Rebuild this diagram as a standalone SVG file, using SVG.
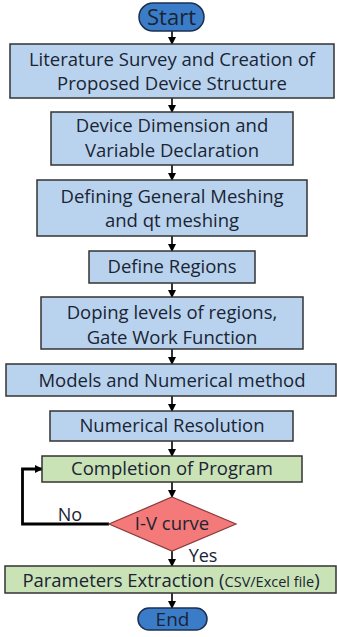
<svg xmlns="http://www.w3.org/2000/svg" width="337" height="637" viewBox="0 0 337 637">
<defs>
<marker id="ah" markerWidth="8" markerHeight="8" refX="7" refY="4" orient="auto" markerUnits="userSpaceOnUse">
<path d="M0,0 L8,4 L0,8 Z" fill="#000"/>
</marker>
<style>
.b{fill:#b9d3ee;stroke:#333;stroke-width:1.5}
.g{fill:#c9e2b6;stroke:#333;stroke-width:1.5}
.t{font-family:"Open Sans","DejaVu Sans",sans-serif;font-size:18.5px;fill:#1a2433;text-anchor:middle}
.term{fill:#3b7cc8;stroke:#1c2f4f;stroke-width:1.5}
.c{stroke:#000;stroke-width:1.6;fill:none}
</style>
</defs>
<rect width="337" height="637" fill="#fff"/>
<g id="connectors">
<line class="c" x1="172" y1="31" x2="172" y2="44" marker-end="url(#ah)"/>
<line class="c" x1="172" y1="98" x2="172" y2="112" marker-end="url(#ah)"/>
<line class="c" x1="172" y1="165" x2="172" y2="180" marker-end="url(#ah)"/>
<line class="c" x1="172" y1="236" x2="172" y2="251" marker-end="url(#ah)"/>
<line class="c" x1="172" y1="283" x2="172" y2="297" marker-end="url(#ah)"/>
<line class="c" x1="172" y1="349" x2="172" y2="364" marker-end="url(#ah)"/>
<line class="c" x1="172" y1="396" x2="172" y2="411" marker-end="url(#ah)"/>
<line class="c" x1="172" y1="441" x2="172" y2="456" marker-end="url(#ah)"/>
<line class="c" x1="172" y1="482" x2="172" y2="497" marker-end="url(#ah)"/>
<line class="c" x1="172" y1="551" x2="172" y2="566" marker-end="url(#ah)"/>
<line class="c" x1="172" y1="593" x2="172" y2="608" marker-end="url(#ah)"/>
<polyline points="109,524 22.5,524 22.5,469 42,469" fill="none" stroke="#000" stroke-width="2.8" marker-end="url(#ah)"/>
<text class="t" x="70" y="521" style="font-size:18px">No</text>
<text class="t" x="203" y="562" style="font-size:18px">Yes</text>
</g>
<g id="start">
<rect class="term" x="139" y="3" width="65" height="28" rx="14"/>
<text class="t" x="171.5" y="25" style="font-size:22px">Start</text>
</g>
<g id="n1">
<rect class="b" x="10" y="44" width="324" height="54"/>
<text class="t" x="172" y="66">Literature Survey and Creation of</text>
<text class="t" x="172" y="90">Proposed Device Structure</text>
</g>
<g id="n2">
<rect class="b" x="51" y="112" width="242" height="53"/>
<text class="t" x="172" y="132">Device Dimension and</text>
<text class="t" x="172" y="157">Variable Declaration</text>
</g>
<g id="n3">
<rect class="b" x="37" y="180" width="270" height="56"/>
<text class="t" x="172" y="203">Defining General Meshing</text>
<text class="t" x="172" y="227">and qt meshing</text>
</g>
<g id="n4">
<rect class="b" x="89" y="251" width="166" height="32"/>
<text class="t" x="172" y="273">Define Regions</text>
</g>
<g id="n5">
<rect class="b" x="41" y="297" width="262" height="52"/>
<text class="t" x="172" y="318.5">Doping levels of regions,</text>
<text class="t" x="172" y="344">Gate Work Function</text>
</g>
<g id="n6">
<rect class="b" x="6" y="364" width="330" height="32"/>
<text class="t" x="172" y="387">Models and Numerical method</text>
</g>
<g id="n7">
<rect class="b" x="50" y="411" width="243" height="30"/>
<text class="t" x="172" y="432">Numerical Resolution</text>
</g>
<g id="n8">
<rect class="g" x="42" y="456" width="260" height="26"/>
<text class="t" x="172" y="475">Completion of Program</text>
</g>
<g id="n9">
<polygon points="172,497 236,524 172,551 109,524" fill="#f47a7a" stroke="#8a3a3a" stroke-width="1.2"/>
<text class="t" x="172" y="530">I-V curve</text>
</g>
<g id="n10">
<rect class="g" x="5" y="566" width="331" height="27"/>
<text class="t" x="171" y="587">Parameters Extraction (<tspan style="font-size:14.5px">CSV/Excel file</tspan>)</text>
</g>
<g id="end">
<rect class="term" x="138" y="608" width="69" height="22" rx="11"/>
<text class="t" x="172.5" y="626" style="font-size:19px">End</text>
</g>
</svg>
